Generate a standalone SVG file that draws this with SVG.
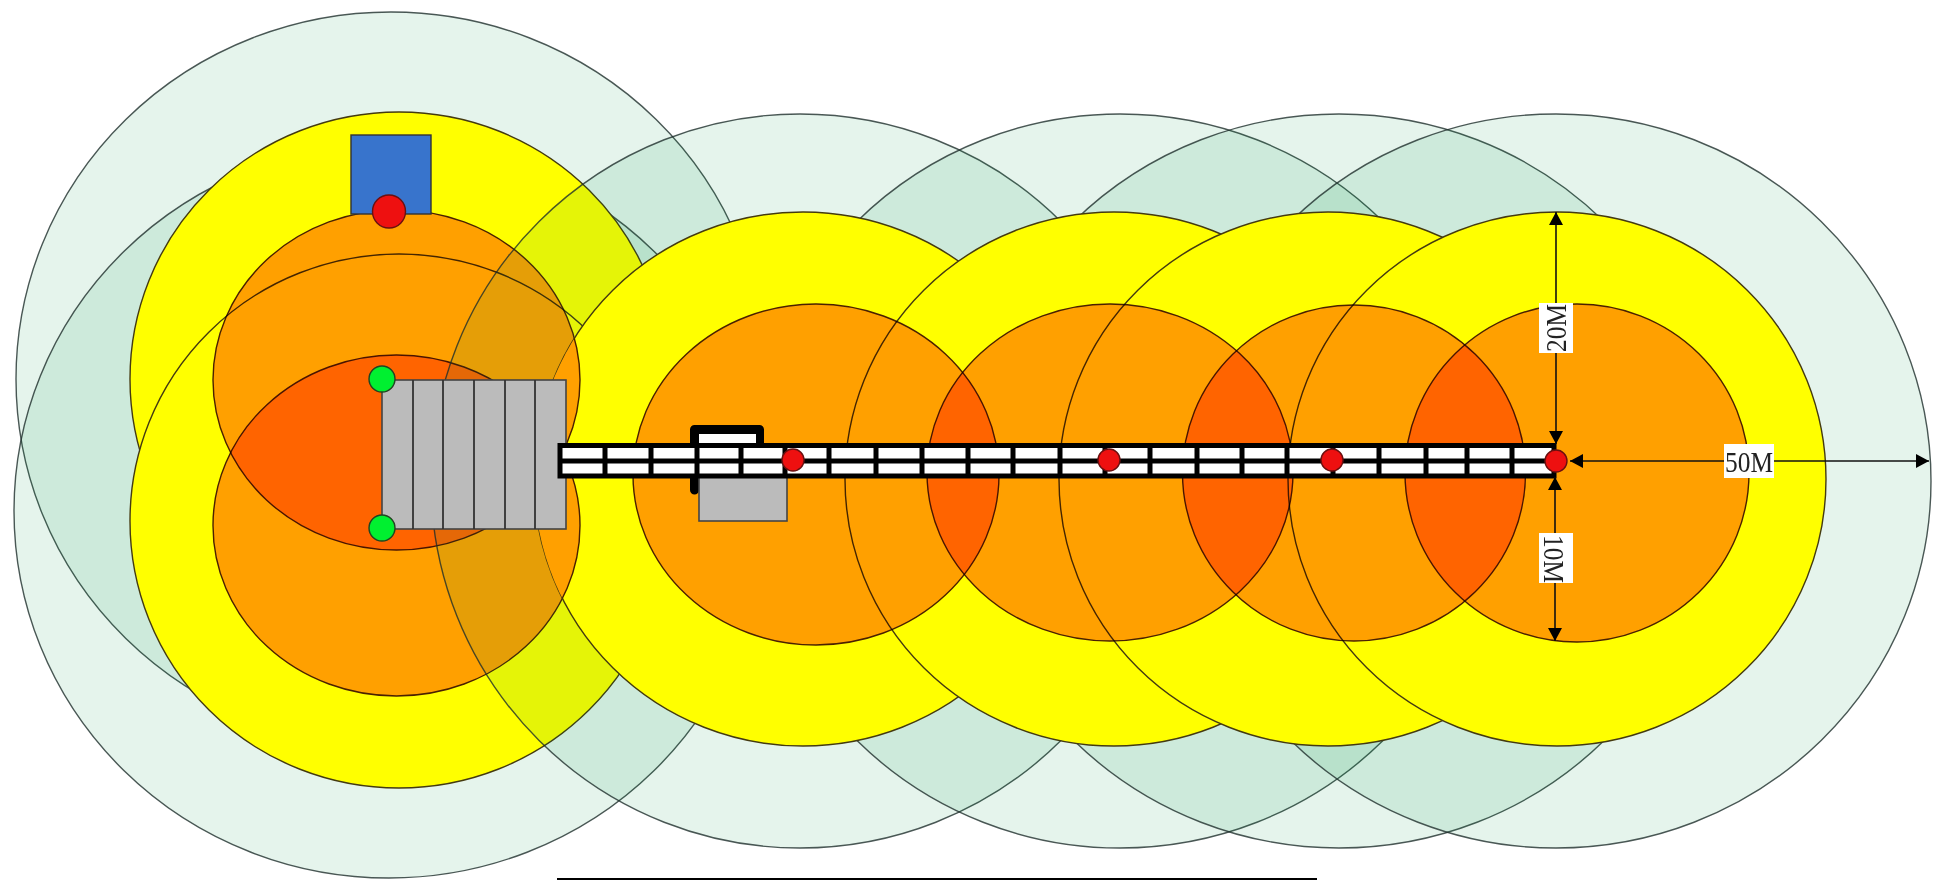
<svg xmlns="http://www.w3.org/2000/svg" width="1934" height="880" viewBox="0 0 1934 880">
<style>
ellipse{stroke-width:1.4}
.pale{fill:#009141;fill-opacity:.1;stroke:#1e2e2c;stroke-opacity:.8}
.yel{fill:#ffff00;stroke:#443a10}
.org{fill:#ffa000;mix-blend-mode:multiply;stroke:#4a2000}
.cell{stroke:#000;stroke-width:5;fill:none}
.dim{stroke:#111;stroke-width:1.6;fill:none}
.lab{fill:#fff}
text{font-family:"Liberation Serif","Times New Roman",serif;font-size:30px;fill:#222;text-anchor:middle}
.red{fill:#ee1010;stroke:#6a1010;stroke-width:1.4}
.grn{fill:#00f030;stroke:#224422;stroke-width:1.4}
.grey{fill:#bbb;stroke:#444;stroke-width:1.6}
</style>
<defs>
<marker id="ah" viewBox="0 0 13 14" refX="13" refY="7" markerWidth="13" markerHeight="14" markerUnits="userSpaceOnUse" orient="auto-start-reverse"><path d="M0 0L13 7L0 14Z" fill="#000"/></marker>
<clipPath id="inY1"><ellipse cx="803" cy="479" rx="269" ry="267"/></clipPath>
</defs>
<rect width="1934" height="880" fill="#fff"/>
<g id="left-zones">
<ellipse class="pale" cx="391" cy="379" rx="375" ry="367"/>
<ellipse class="pale" cx="389" cy="511" rx="375" ry="367"/>
<ellipse class="yel" cx="399" cy="379" rx="269" ry="267"/>
<ellipse class="yel" cx="399" cy="521" rx="269" ry="267"/>
<ellipse class="org" cx="396.500" cy="380" rx="183.500" ry="170"/>
<ellipse class="org" cx="396.500" cy="525.500" rx="183.500" ry="170.500"/>
</g>
<g id="outer-zones">
<ellipse class="pale" cx="800" cy="481" rx="369" ry="367"/>
<ellipse class="pale" cx="1120" cy="481" rx="372" ry="367"/>
<ellipse class="pale" cx="1339" cy="481" rx="375" ry="367"/>
<ellipse class="pale" cx="1556" cy="481" rx="375" ry="367"/>
</g>
<g id="middle-zones">
<ellipse class="yel" cx="803" cy="479" rx="269" ry="267"/>
<ellipse class="yel" cx="1114" cy="479" rx="269" ry="267"/>
<ellipse class="yel" cx="1328" cy="479" rx="269" ry="267"/>
<ellipse class="yel" cx="1557" cy="479" rx="269" ry="267"/>
</g>
<g id="inner-zones">
<g clip-path="url(#inY1)">
<ellipse class="org" cx="396.500" cy="380" rx="183.500" ry="170"/>
<ellipse class="org" cx="396.500" cy="525.500" rx="183.500" ry="170.500"/>
</g>
<ellipse class="org" cx="816" cy="474.500" rx="183" ry="170.500"/>
<ellipse class="org" cx="1110" cy="472.500" rx="183" ry="168.500"/>
<ellipse class="org" cx="1354" cy="473" rx="171.500" ry="168"/>
<ellipse class="org" cx="1577" cy="473" rx="172" ry="169"/>
</g>
<g id="building">
<rect class="grey" x="382" y="380" width="184" height="149"/>
<path d="M413 380V529M443 380V529M474 380V529M505 380V529M535 380V529" stroke="#333" stroke-width="1.800" fill="none"/>
</g>
<g id="blue-unit"><rect x="351" y="135" width="80" height="79" fill="#3874cc" stroke="#333" stroke-width="1.400"/></g>
<g id="station">
<path d="M694.500 490V429.500H759.500V446" fill="none" stroke="#000" stroke-width="9" stroke-linejoin="round" stroke-linecap="round"/>
<rect x="699" y="434" width="57" height="12" fill="#fff"/>
<rect class="grey" x="699" y="470" width="88" height="51"/>
</g>
<g id="track">
<rect x="560" y="445.500" width="994" height="30.500" fill="#fff" stroke="#000" stroke-width="5"/>
<path class="cell" d="M558 461H1556"/>
<path class="cell" d="M605 443V478M651 443V478M697 443V478M741 443V478M785 443V478M829 443V478M876 443V478M922 443V478M968 443V478M1013 443V478M1060 443V478M1105 443V478M1150 443V478M1197 443V478M1242 443V478M1287 443V478M1333 443V478M1379 443V478M1426 443V478M1467 443V478M1512 443V478"/>
</g>
<g id="connectors">
<path class="dim" d="M1556 212V444" marker-start="url(#ah)" marker-end="url(#ah)"/>
<path class="dim" d="M1555 477V641" marker-start="url(#ah)" marker-end="url(#ah)"/>
<path class="dim" d="M1570 461H1929" marker-start="url(#ah)" marker-end="url(#ah)"/>
</g>
<g id="node-a"><circle class="red" cx="389" cy="211.500" r="16.500"/></g>
<g id="node-b"><circle class="grn" cx="382" cy="379" r="13"/></g>
<g id="node-c"><circle class="grn" cx="382" cy="528" r="13"/></g>
<g id="node-d"><circle class="red" cx="793" cy="460" r="11"/></g>
<g id="node-e"><circle class="red" cx="1109" cy="460" r="11"/></g>
<g id="node-f"><circle class="red" cx="1332" cy="460" r="11"/></g>
<g id="node-g"><circle class="red" cx="1556" cy="461" r="11"/></g>
<g id="label-50m"><rect class="lab" x="1724" y="444" width="50" height="34"/><text x="1749" y="471.500" textLength="48" lengthAdjust="spacingAndGlyphs">50M</text></g>
<g id="label-20m"><rect class="lab" x="1539" y="303" width="34" height="50"/><text transform="translate(1566 328) rotate(-90)" textLength="48" lengthAdjust="spacingAndGlyphs">20M</text></g>
<g id="label-10m"><rect class="lab" x="1539" y="533" width="34" height="50"/><text transform="translate(1544 559) rotate(90)" textLength="48" lengthAdjust="spacingAndGlyphs">10M</text></g>
<rect id="base-line" x="557" y="878" width="760" height="2" fill="#000"/>
</svg>
